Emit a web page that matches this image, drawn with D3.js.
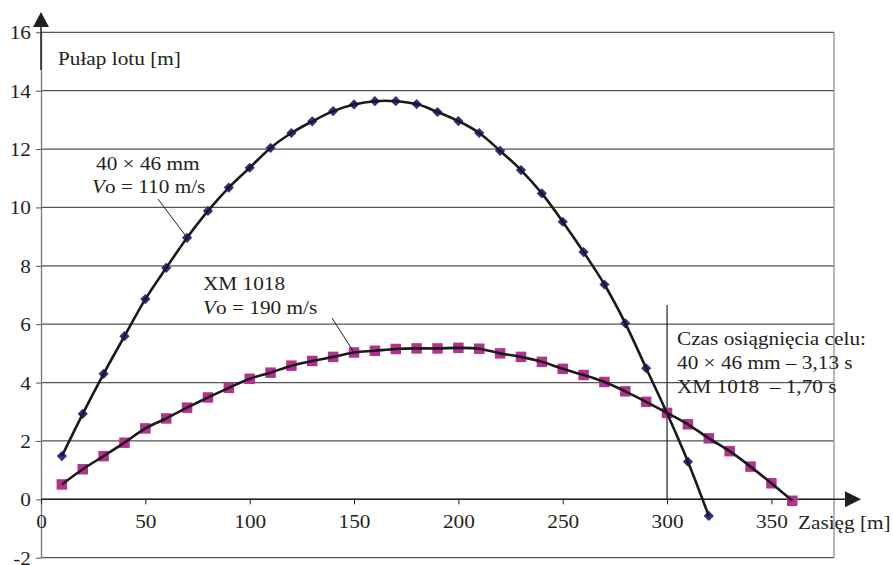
<!DOCTYPE html>
<html>
<head>
<meta charset="utf-8">
<script src="https://cdn.jsdelivr.net/npm/d3@7"></script>
<style>
  body { margin: 0; background: #fff; }
  text { font-family: "Liberation Serif", "DejaVu Serif", serif; fill: #231f20; white-space: pre; }
</style>
</head>
<body>
<div id="chart"></div>
<script>
// chart data
var distBlue = [10, 20, 30, 40, 50, 60, 70, 80, 90, 100, 110, 120, 130, 140, 150, 160,
  170, 180, 190, 200, 210, 220, 230, 240, 250, 260, 270, 280, 290, 300, 310, 320];
var heightBlue = [1.48, 2.93, 4.30, 5.59, 6.86, 7.93, 8.96, 9.88, 10.68, 11.36, 12.04, 12.55, 12.95, 13.30, 13.53, 13.64,
  13.64, 13.54, 13.27, 12.96, 12.55, 11.94, 11.28, 10.48, 9.51, 8.47, 7.36, 6.03, 4.49, 2.95, 1.29, -0.57];

var distPink = [10, 20, 30, 40, 50, 60, 70, 80, 90, 100, 110, 120, 130, 140, 150, 160, 170, 180,
  190, 200, 210, 220, 230, 240, 250, 260, 270, 280, 290, 300, 310, 320, 330, 340, 350, 360];
var heightPink = [0.51, 1.03, 1.48, 1.94, 2.43, 2.77, 3.14, 3.49, 3.82, 4.13, 4.34, 4.58, 4.74, 4.88, 5.03, 5.09, 5.15, 5.17,
  5.17, 5.19, 5.16, 5.00, 4.88, 4.71, 4.47, 4.26, 4.02, 3.70, 3.34, 2.96, 2.57, 2.09, 1.65, 1.12, 0.55, -0.05];

var xTicks = [0, 50, 100, 150, 200, 250, 300, 350];
var yTicks = [-2, 0, 2, 4, 6, 8, 10, 12, 14, 16];

var svgWidth = 893;
var svgHeight = 565;

var svg = d3.select("#chart")
  .append("svg")
  .attr("width", svgWidth)
  .attr("height", svgHeight);

var xScale = d3.scaleLinear().domain([0, 380]).range([41, 834]);
var yScale = d3.scaleLinear().domain([-2, 16]).range([557.7, 32.3]);

// the text in the picture is a bit wider than Liberation Serif
var stretch = 1.12;

// gridlines
svg.append("g")
  .selectAll("line")
  .data(yTicks)
  .enter()
  .append("line")
  .attr("x1", xScale(0))
  .attr("x2", xScale(380))
  .attr("y1", d => yScale(d))
  .attr("y2", d => yScale(d))
  .attr("stroke", "#555")
  .attr("stroke-width", 1.2);

// right border
svg.append("line")
  .attr("x1", xScale(380)).attr("x2", xScale(380))
  .attr("y1", yScale(16)).attr("y2", yScale(-2))
  .attr("stroke", "#888")
  .attr("stroke-width", 1.2);

// y axis
var leftAxis = d3.axisLeft(yScale)
  .tickValues(yTicks)
  .tickFormat(d => String(d))
  .tickSize(5)
  .tickSizeOuter(0);
var yAxis = svg.append("g")
  .attr("transform", `translate(${xScale(0)},0)`)
  .call(leftAxis);
yAxis.select(".domain").attr("stroke", "#777").attr("stroke-width", 1.3);
yAxis.selectAll(".tick line").attr("stroke", "#555");
yAxis.selectAll("text")
  .attr("x", -9)
  .attr("dy", "0.34em")
  .attr("transform", `scale(${stretch},1)`)
  .style("font-family", "Liberation Serif")
  .style("font-size", "19px");

// y arrow
svg.append("line")
  .attr("x1", xScale(0)).attr("x2", xScale(0))
  .attr("y1", 70).attr("y2", 24)
  .attr("stroke", "#231f20")
  .attr("stroke-width", 1.5);
svg.append("path")
  .attr("d", `M${xScale(0)},12 L${xScale(0) + 8},27 L${xScale(0) - 8},27 Z`)
  .attr("fill", "#231f20");

// x axis
var bottomAxis = d3.axisBottom(xScale).tickValues(xTicks).tickSize(5).tickSizeOuter(0);
var xAxis = svg.append("g")
  .attr("transform", `translate(0,${yScale(0)})`)
  .call(bottomAxis);
xAxis.select(".domain").remove();
xAxis.selectAll(".tick line").attr("stroke", "#231f20");
xAxis.selectAll("text")
  .attr("y", 15)
  .attr("dy", "0.71em")
  .attr("transform", `scale(${stretch},1)`)
  .style("font-family", "Liberation Serif")
  .style("font-size", "19px");

svg.append("line")
  .attr("x1", xScale(0)).attr("x2", 848)
  .attr("y1", yScale(0)).attr("y2", yScale(0))
  .attr("stroke", "#231f20")
  .attr("stroke-width", 1.5);
svg.append("path")
  .attr("d", `M861,${yScale(0)} L845,${yScale(0) - 8} L845,${yScale(0) + 8} Z`)
  .attr("fill", "#231f20");

// vertical line at 300 m
svg.append("line")
  .attr("x1", xScale(300)).attr("x2", xScale(300))
  .attr("y1", 305).attr("y2", yScale(0))
  .attr("stroke", "#231f20")
  .attr("stroke-width", 1.2);

var blueData = distBlue.map((d, i) => ({x: d, y: heightBlue[i]}));
var pinkData = distPink.map((d, i) => ({x: d, y: heightPink[i]}));

// markers
svg.append("g")
  .selectAll("path")
  .data(blueData)
  .enter()
  .append("path")
  .attr("d", d3.symbol().type(d3.symbolSquare).size(52))
  .attr("transform", d => `translate(${xScale(d.x)},${yScale(d.y)}) rotate(45)`)
  .attr("fill", "#2b2f8e");

svg.append("g")
  .selectAll("path")
  .data(pinkData)
  .enter()
  .append("path")
  .attr("d", d3.symbol().type(d3.symbolSquare).size(110))
  .attr("transform", d => `translate(${xScale(d.x)},${yScale(d.y)})`)
  .attr("fill", "#b5318f");

// smooth lines
var line = d3.line()
  .x(d => xScale(d.x))
  .y(d => yScale(d.y))
  .curve(d3.curveCatmullRom);

svg.append("path")
  .datum(blueData)
  .attr("d", line)
  .attr("fill", "none")
  .attr("stroke", "#1a1a1a")
  .attr("stroke-width", 2.6);

svg.append("path")
  .datum(pinkData)
  .attr("d", line)
  .attr("fill", "none")
  .attr("stroke", "#1a1a1a")
  .attr("stroke-width", 2.6);

// leader lines
svg.append("line")
  .attr("x1", 158).attr("y1", 199)
  .attr("x2", xScale(70)).attr("y2", yScale(8.96))
  .attr("stroke", "#231f20").attr("stroke-width", 1);
svg.append("line")
  .attr("x1", 332).attr("y1", 318)
  .attr("x2", xScale(150)).attr("y2", yScale(5.03))
  .attr("stroke", "#231f20").attr("stroke-width", 1);

// labels
function label(x, y, txt) {
  return svg.append("text")
    .attr("transform", `translate(${x},${y}) scale(${stretch},1)`)
    .style("font-size", "19px")
    .text(txt);
}

label(58, 65, "Pułap lotu [m]");
label(96, 170, "40 × 46 mm");
var v1 = label(92, 193, "");
v1.append("tspan").style("font-style", "italic").text("V");
v1.append("tspan").text("o = 110 m/s");
label(203, 290, "XM 1018");
var v2 = label(203, 314, "");
v2.append("tspan").style("font-style", "italic").text("V");
v2.append("tspan").text("o = 190 m/s");

label(677, 345, "Czas osiągnięcia celu:");
label(677, 369, "40 × 46 mm – 3,13 s");
label(677, 393, "XM 1018  – 1,70 s");

label(798, 529, "Zasięg [m]");
</script>
</body>
</html>
